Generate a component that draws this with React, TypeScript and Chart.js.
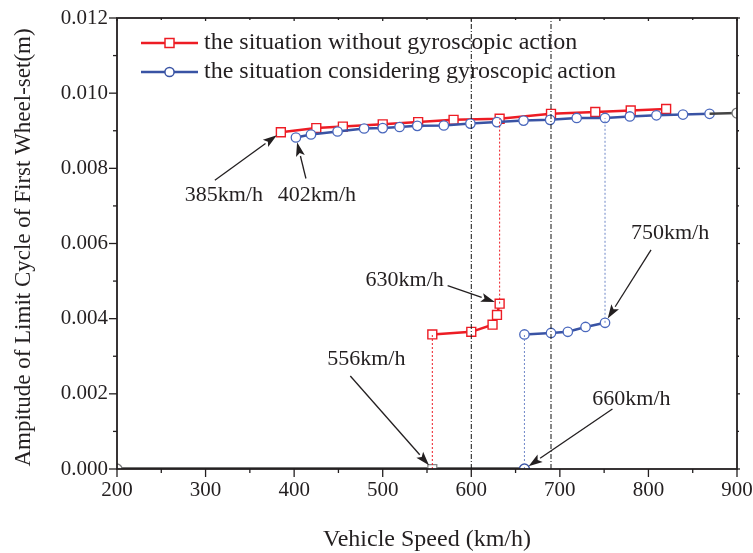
import React, { useEffect, useRef } from "react";
import { Chart, registerables } from "chart.js";

Chart.register(...registerables);

// ---------- data ----------
const speedTicks = [200, 300, 400, 500, 600, 700, 800, 900];
const ampTicks = [0, 0.002, 0.004, 0.006, 0.008, 0.01, 0.012];

const redUpperSpeed = [385, 425, 455, 500, 540, 580, 632, 690, 740, 780, 820];
const redUpperAmp = [0.00896, 0.00907, 0.00911, 0.00917, 0.00923, 0.00929, 0.00932, 0.00945, 0.0095, 0.00954, 0.00958];

const redLowerSpeed = [556, 600, 624, 629, 632];
const redLowerAmp = [0.00358, 0.00365, 0.00384, 0.0041, 0.0044];

const blueUpperSpeed = [402, 419, 449, 479, 500, 519, 539, 569, 599, 629, 659, 689, 719, 751, 779, 809, 839, 869];
const blueUpperAmp = [0.00882, 0.0089, 0.00898, 0.00906, 0.00907, 0.0091, 0.00913, 0.00914, 0.00919, 0.00923, 0.00927, 0.00929, 0.00934, 0.00934, 0.00938, 0.00941, 0.00943, 0.00945];
const blueTailSpeed = [869, 900];
const blueTailAmp = [0.00945, 0.00947];

const blueLowerSpeed = [660, 690, 709, 729, 751];
const blueLowerAmp = [0.00358, 0.00362, 0.00365, 0.00378, 0.00389];

const zeroSpeed = [200, 556, 660];
const zeroAmp = [0, 0, 0];

const refSpeeds = [600, 690];

const legendLabels = [
  "the situation without gyroscopic action",
  "the situation considering gyroscopic action",
];

const annoLabels = ["385km/h", "402km/h", "630km/h", "750km/h", "556km/h", "660km/h"];
const annoSpeed = [385, 402, 632, 751, 556, 660];
const annoAmp = [0.00896, 0.00882, 0.0044, 0.00389, 0, 0];

// ---------- styles ----------
const RED = "#ed1c24";
const BLUE = "#3953a4";
const INK = "#231f20";
const FONT = "'Liberation Serif', 'Times New Roman', serif";

// pixel offsets of text centre and arrow tail relative to the target marker
const annoLayout = [
  { tdx: -57, tdy: 63, adx: -66, ady: 48 },
  { tdx: 21, tdy: 58, adx: 10, ady: 41 },
  { tdx: -95, tdy: -23, adx: -52, ady: -18 },
  { tdx: 65, tdy: -90, adx: 46, ady: -73 },
  { tdx: -66, tdy: -110, adx: -82, ady: -93 },
  { tdx: 107, tdy: -70, adx: 88, ady: -60 },
];

const pts = (xs: number[], ys: number[]) => xs.map((x, i) => ({ x, y: ys[i] }));

const decor = {
  id: "decor",
  afterDatasetsDraw(chart: any) {
    const { ctx, chartArea: a, scales } = chart;
    const x = scales.x;
    const y = scales.y;
    ctx.save();
    const line = (x1: number, y1: number, x2: number, y2: number) => {
      ctx.beginPath();
      ctx.moveTo(x1, y1);
      ctx.lineTo(x2, y2);
      ctx.stroke();
    };
    // frame
    ctx.strokeStyle = INK;
    ctx.lineWidth = 1.8;
    ctx.setLineDash([]);
    ctx.strokeRect(a.left, a.top, a.right - a.left, a.bottom - a.top);
    ctx.lineWidth = 1.3;
    // x ticks (major + minor)
    for (let i = 0; i < speedTicks.length; i++) {
      const v = speedTicks[i];
      const px = x.getPixelForValue(v);
      line(px, a.bottom, px, a.bottom + 8);
      line(px, a.top, px, a.top + 3);
      if (i < speedTicks.length - 1) {
        const mv = (v + speedTicks[i + 1]) / 2;
        const mp = x.getPixelForValue(mv);
        line(mp, a.bottom, mp, a.bottom + 4);
        line(mp, a.top, mp, a.top + 2);
      }
    }
    // y ticks
    for (let i = 0; i < ampTicks.length; i++) {
      const v = ampTicks[i];
      const py = y.getPixelForValue(v);
      line(a.left - 8, py, a.left, py);
      line(a.right, py, a.right + 3, py);
      if (i < ampTicks.length - 1) {
        const mv = (v + ampTicks[i + 1]) / 2;
        const mp = y.getPixelForValue(mv);
        line(a.left - 4, mp, a.left, mp);
        line(a.right, mp, a.right + 2, mp);
      }
    }

    // annotations
    ctx.fillStyle = INK;
    ctx.strokeStyle = INK;
    ctx.font = `22px ${FONT}`;
    ctx.textAlign = "center";
    ctx.textBaseline = "middle";
    annoLabels.forEach((lbl, i) => {
      const tx = x.getPixelForValue(annoSpeed[i]);
      const ty = y.getPixelForValue(annoAmp[i]);
      const L = annoLayout[i];
      ctx.fillText(lbl, tx + L.tdx, ty + L.tdy);
      const sx = tx + L.adx;
      const sy = ty + L.ady;
      const dx = tx - sx;
      const dy = ty - sy;
      const len = Math.hypot(dx, dy);
      const ux = dx / len;
      const uy = dy / len;
      const ex = tx - ux * 5;
      const ey = ty - uy * 5;
      const hl = 14;
      const hw = 4.5;
      const bx = ex - ux * hl;
      const by = ey - uy * hl;
      ctx.lineWidth = 1.3;
      line(sx, sy, bx, by);
      ctx.beginPath();
      ctx.moveTo(ex, ey);
      ctx.lineTo(bx - uy * hw, by + ux * hw);
      ctx.lineTo(bx + ux * 3, by + uy * 3);
      ctx.lineTo(bx + uy * hw, by - ux * hw);
      ctx.closePath();
      ctx.fill();
    });

    // legend
    const legendY = [43, 72];
    const colors = [RED, BLUE];
    legendLabels.forEach((lbl, i) => {
      const ly = legendY[i];
      ctx.strokeStyle = colors[i];
      ctx.lineWidth = 2.5;
      line(141, ly, 198, ly);
      ctx.fillStyle = "#fff";
      ctx.lineWidth = 1.5;
      ctx.beginPath();
      if (i === 0) ctx.rect(165, ly - 4.5, 9, 9);
      else ctx.arc(169.5, ly, 4.6, 0, Math.PI * 2);
      ctx.fill();
      ctx.stroke();
      ctx.fillStyle = INK;
      ctx.font = `24px ${FONT}`;
      ctx.textAlign = "left";
      ctx.textBaseline = "middle";
      ctx.fillText(lbl, 204, ly);
    });

    // axis titles
    ctx.fillStyle = INK;
    ctx.font = `24px ${FONT}`;
    ctx.textAlign = "center";
    ctx.textBaseline = "middle";
    ctx.fillText("Vehicle Speed (km/h)", (a.left + a.right) / 2, 540);
    ctx.save();
    ctx.translate(24, (a.top + a.bottom) / 2 + 4);
    ctx.rotate(-Math.PI / 2);
    ctx.font = `23px ${FONT}`;
    ctx.fillText("Ampitude of Limit Cycle of First Wheel-set(m)", 0, 0);
    ctx.restore();

    ctx.restore();
  },
};

export default function App() {
  const ref = useRef<HTMLCanvasElement | null>(null);
  useEffect(() => {
    document.body.style.margin = "0";
    const canvas = ref.current;
    if (!canvas) return;
    const vLine = (sx: number, y0: number, y1: number) => [
      { x: sx, y: y0 },
      { x: sx, y: y1 },
    ];
    const chart = new Chart(canvas, {
      type: "line",
      data: {
        datasets: [
          // reference dash-dot lines
          ...refSpeeds.map((s) => ({
            data: vLine(s, ampTicks[0], ampTicks[ampTicks.length - 1]),
            borderColor: "#111",
            borderWidth: 1,
            borderDash: [5, 2, 1, 2],
            pointRadius: 0,
            order: 0,
          })),
          // jump lines
          {
            data: vLine(redLowerSpeed[0], zeroAmp[1], redLowerAmp[0]),
            borderColor: RED,
            borderWidth: 1,
            borderDash: [2, 2],
            pointRadius: 0,
            order: 0,
          },
          {
            data: vLine(redLowerSpeed[redLowerSpeed.length - 1], redLowerAmp[redLowerAmp.length - 1], redUpperAmp[6]),
            borderColor: RED,
            borderWidth: 1,
            borderDash: [2, 2],
            pointRadius: 0,
            order: 0,
          },
          {
            data: vLine(blueLowerSpeed[0], zeroAmp[2], blueLowerAmp[0]),
            borderColor: "#6f87c8",
            borderWidth: 1,
            borderDash: [2, 2],
            pointRadius: 0,
            order: 0,
          },
          {
            data: vLine(blueLowerSpeed[blueLowerSpeed.length - 1], blueLowerAmp[blueLowerAmp.length - 1], blueUpperAmp[13]),
            borderColor: "#6f87c8",
            borderWidth: 1,
            borderDash: [2, 2],
            pointRadius: 0,
            order: 0,
          },
          // zero line
          {
            data: pts(zeroSpeed, zeroAmp),
            borderColor: "#444",
            borderWidth: 3.5,
            pointStyle: ["circle", "rect", "circle"],
            pointRadius: [5, 6.3, 5],
            pointBorderColor: ["#777", "#888", BLUE],
            pointBorderWidth: 1.3,
            pointBackgroundColor: "#fff",
            order: 1,
          },
          {
            data: pts(redLowerSpeed, redLowerAmp),
            borderColor: RED,
            borderWidth: 2.5,
            pointStyle: "rect",
            pointRadius: 6.3,
            pointBorderColor: RED,
            pointBorderWidth: 1.4,
            pointBackgroundColor: "#fff",
            order: 1,
          },
          {
            data: pts(redUpperSpeed, redUpperAmp),
            borderColor: RED,
            borderWidth: 2.5,
            pointStyle: "rect",
            pointRadius: 6.3,
            pointBorderColor: RED,
            pointBorderWidth: 1.4,
            pointBackgroundColor: "#fff",
            order: 2,
          },
          {
            data: pts(blueTailSpeed, blueTailAmp),
            borderColor: "#444",
            borderWidth: 2.5,
            pointStyle: "circle",
            pointRadius: [0, 5],
            pointBorderColor: "#777",
            pointBorderWidth: 1.3,
            pointBackgroundColor: "#fff",
            order: 1,
          },
          {
            data: pts(blueLowerSpeed, blueLowerAmp),
            borderColor: BLUE,
            borderWidth: 2.5,
            pointStyle: "circle",
            pointRadius: 4.7,
            pointBorderColor: "#4a68bd",
            pointBorderWidth: 1.3,
            pointBackgroundColor: "#fff",
            order: 1,
          },
          {
            data: pts(blueUpperSpeed, blueUpperAmp),
            borderColor: BLUE,
            borderWidth: 2.5,
            pointStyle: "circle",
            pointRadius: 4.7,
            pointBorderColor: "#4a68bd",
            pointBorderWidth: 1.3,
            pointBackgroundColor: "#fff",
            order: 1,
          },
        ],
      },
      options: {
        responsive: false,
        animation: false,
        events: [],
        layout: { padding: { top: 18, right: 0, left: 0, bottom: 0 } },
        plugins: { legend: { display: false }, tooltip: { enabled: false } },
        scales: {
          x: {
            type: "linear",
            min: speedTicks[0],
            max: speedTicks[speedTicks.length - 1],
            grid: { display: false, drawTicks: false },
            border: { display: false },
            afterFit: (s: any) => {
              s.height = 84;
              s.paddingRight = 16;
              s.paddingLeft = 0;
            },
            afterBuildTicks: (s: any) => {
              s.ticks = speedTicks.map((v) => ({ value: v }));
            },
            ticks: {
              padding: 9,
              color: INK,
              font: { family: FONT, size: 21 },
              callback: (v: any) => String(v),
              maxRotation: 0,
            },
          },
          y: {
            type: "linear",
            min: ampTicks[0],
            max: ampTicks[ampTicks.length - 1],
            grid: { display: false, drawTicks: false },
            border: { display: false },
            afterFit: (s: any) => {
              s.width = 117;
              s.paddingTop = 0;
              s.paddingBottom = 0;
            },
            afterBuildTicks: (s: any) => {
              s.ticks = ampTicks.map((v) => ({ value: v }));
            },
            ticks: {
              padding: 9,
              color: INK,
              font: { family: FONT, size: 21 },
              callback: (v: any) => Number(v).toFixed(3),
            },
          },
        },
      },
      plugins: [decor],
    } as any);
    return () => chart.destroy();
  }, []);
  return (
    <div style={{ width: 753, height: 553, background: "#fff" }}>
      <canvas ref={ref} width={753} height={553} style={{ display: "block" }} />
    </div>
  );
}
